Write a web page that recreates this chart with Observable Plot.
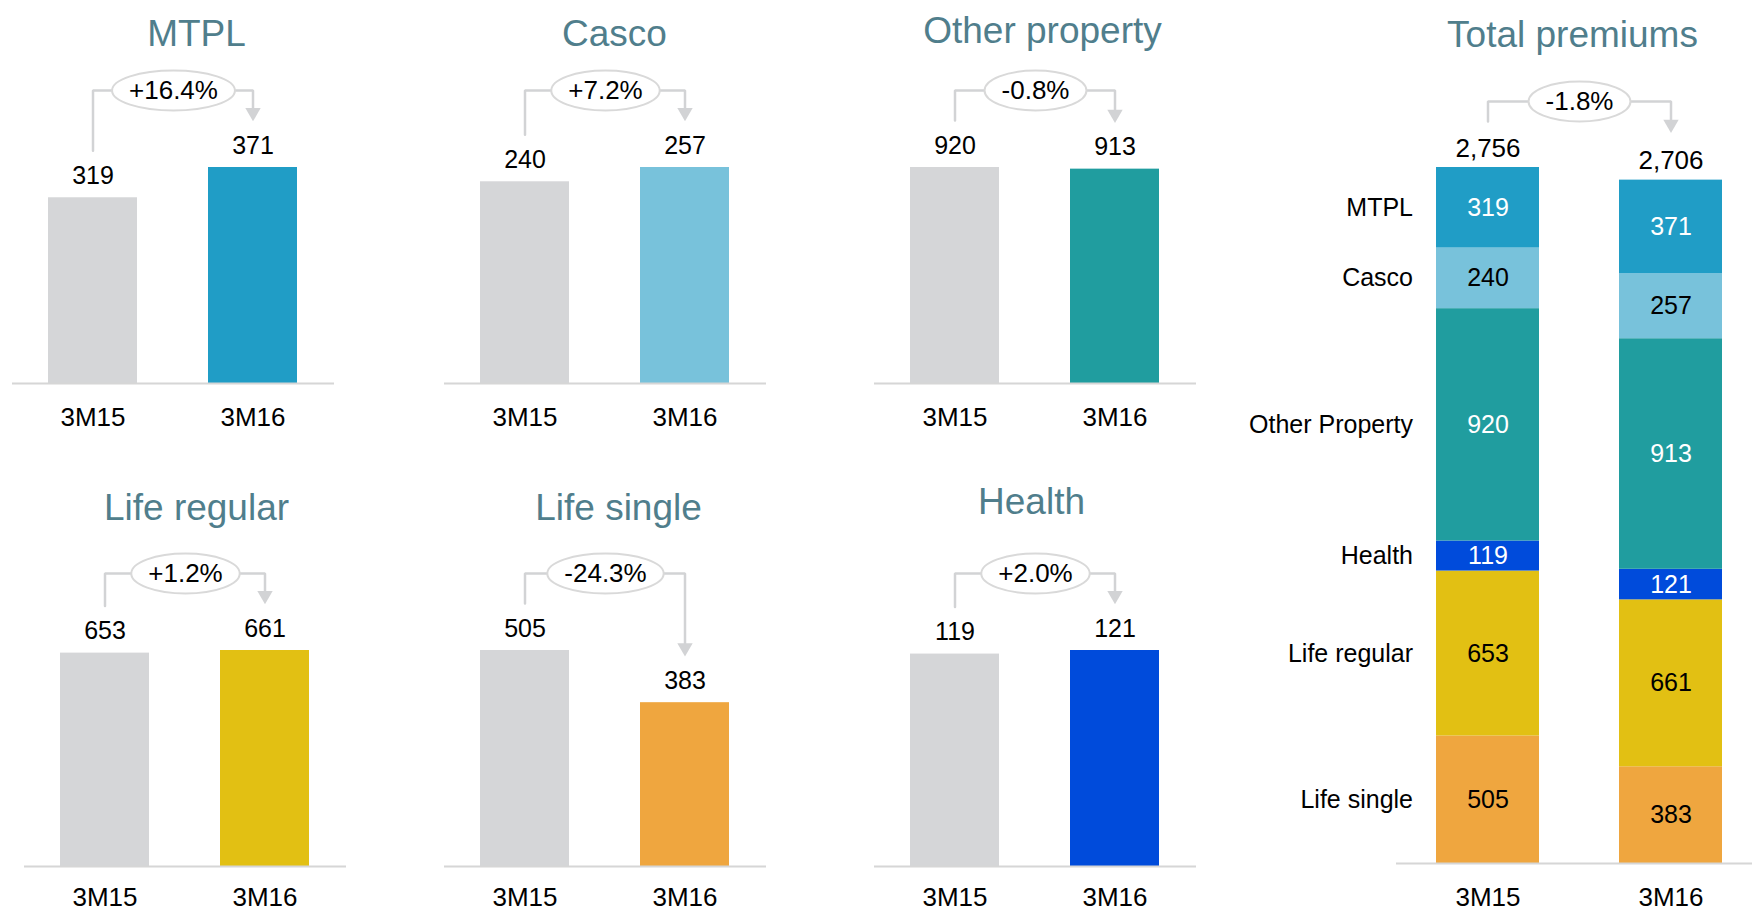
<!DOCTYPE html>
<html><head><meta charset="utf-8">
<script src="https://cdn.jsdelivr.net/npm/d3@7"></script>
<script src="https://cdn.jsdelivr.net/npm/@observablehq/plot@0.6"></script>
<style>
html,body{margin:0;padding:0;background:#fff;}
#root{position:relative;width:1752px;height:910px;overflow:hidden;font-family:"Liberation Sans",Arial,sans-serif;}
#root svg{position:absolute;overflow:visible;}
</style></head><body><div id="root"></div>
<script>
// ---------- DATA ----------
const periods = ["3M15", "3M16"];
const segments = ["MTPL", "Casco", "Other property", "Life regular", "Life single", "Health"];
const values3M15 = [319, 240, 920, 653, 505, 119];
const values3M16 = [371, 257, 913, 661, 383, 121];
const changes = ["+16.4%", "+7.2%", "-0.8%", "+1.2%", "-24.3%", "+2.0%"];

const totalTitle = "Total premiums";
const stackCategories = ["MTPL", "Casco", "Other Property", "Health", "Life regular", "Life single"]; // top -> bottom
const stack3M15 = [319, 240, 920, 119, 653, 505];
const stack3M16 = [371, 257, 913, 121, 661, 383];
const totals = [2756, 2706];
const totalChange = "-1.8%";

// ---------- STYLE ----------
const FONT = "Liberation Sans, Arial, sans-serif";
const GRAY_BAR = "#d5d6d8";
const TITLE_COLOR = "#507e8c";
const LINE_GRAY = "#d2d3d5";
const AXIS_GRAY = "#d6d6d6";
const segColor = {
  "MTPL": "#209dc6", "Casco": "#78c2db", "Other property": "#209d9f", "Other Property": "#209d9f",
  "Health": "#004bdb", "Life regular": "#e2c013", "Life single": "#efa63f"
};
const segLabelColor = {
  "MTPL": "white", "Casco": "black", "Other Property": "white",
  "Health": "white", "Life regular": "black", "Life single": "black"
};

// ---------- LAYOUT ----------
const rowsLayout = [
  {top: 0, height: 450, mt: 167, mb: 67, labelDy: 42},
  {top: 450, height: 460, mt: 200, mb: 44, labelDy: 39}
];
const panelLayout = [
  {row: 0, left: 0,   titleDx: 23, titleBase: 45},
  {row: 0, left: 432, titleDx: 9,  titleBase: 45},
  {row: 0, left: 862, titleDx: 7,  titleBase: 42},
  {row: 1, left: 12,  titleDx: 11, titleBase: 519},
  {row: 1, left: 432, titleDx: 13, titleBase: 519},
  {row: 1, left: 862, titleDx: -4, titleBase: 513}
];
const SMALL_W = 346, SMALL_M = 12;
const GAP = {leg: 47, arrow: 55, horiz: 77};

const root = document.getElementById("root");
const mctx = document.createElement("canvas").getContext("2d");
function textWidth(s, size) { mctx.font = `${size}px "Liberation Sans"`; return mctx.measureText(s).width; }
function ellipseSymbol(rx, ry) {
  const K = 0.5522847498;
  return {draw(c) {
    c.moveTo(rx, 0);
    c.bezierCurveTo(rx, ry * K, rx * K, ry, 0, ry);
    c.bezierCurveTo(-rx * K, ry, -rx, ry * K, -rx, 0);
    c.bezierCurveTo(-rx, -ry * K, -rx * K, -ry, 0, -ry);
    c.bezierCurveTo(rx * K, -ry, rx, -ry * K, rx, 0);
    c.closePath();
  }};
}
function place(svg, left, top) {
  svg.style.position = "absolute";
  svg.style.left = left + "px";
  svg.style.top = top + "px";
  root.appendChild(svg);
}

function bracketMarks(v, max, k, gaps) {
  const yH = max + gaps.horiz * k;
  const pts = [
    {period: periods[0], y: v[0] + gaps.leg * k},
    {period: periods[0], y: yH},
    {period: periods[1], y: yH},
    {period: periods[1], y: v[1] + gaps.arrow * k}
  ];
  return {yH, marks: [
    Plot.line(pts, {x: "period", y: "y", stroke: LINE_GRAY, strokeWidth: 2.5, strokeLinejoin: "miter"}),
    Plot.dot([pts[3]], {x: "period", y: "y", symbol: "triangle", rotate: 180, r: 5.7, fill: LINE_GRAY, stroke: "none"})
  ]};
}
function pctMarks(text, yH, dx) {
  const rx = textWidth(text, 26) / 2 + 17;
  return [
    Plot.dot([yH], {y: d => d, frameAnchor: "middle", dx, symbol: ellipseSymbol(rx, 20), fill: "white", stroke: "#d9d9d9", strokeWidth: 2}),
    Plot.text([text], {y: () => yH, frameAnchor: "middle", dx, text: d => d, fontSize: 26, fill: "black"})
  ];
}

// ---------- SMALL PANELS ----------
segments.forEach((name, i) => {
  const L = panelLayout[i];
  const R = rowsLayout[L.row];
  const v = [values3M15[i], values3M16[i]];
  const data = periods.map((period, j) => ({period, value: v[j]}));
  const max = d3.max(v);
  const frameH = R.height - R.mt - R.mb;
  const k = max / frameH;
  const br = bracketMarks(v, max, k, GAP);
  const svg = Plot.plot({
    width: SMALL_W, height: R.height,
    marginLeft: SMALL_M, marginRight: SMALL_M, marginTop: R.mt, marginBottom: R.mb,
    style: {fontFamily: FONT, background: "transparent", overflow: "visible"},
    x: {domain: periods, axis: null, paddingInner: 71 / 161, paddingOuter: 0.2205},
    y: {domain: [0, max], axis: null},
    color: {type: "identity"},
    marks: [
      Plot.barY(data, {x: "period", y: "value", fill: d => d.period === periods[0] ? GRAY_BAR : segColor[name]}),
      Plot.ruleY([0], {stroke: AXIS_GRAY, strokeWidth: 2}),
      ...br.marks,
      ...pctMarks(changes[i], br.yH, 0),
      Plot.text(data, {x: "period", y: "value", text: d => d3.format(",")(d.value), dy: -14, lineAnchor: "bottom", fontSize: 25, fill: "black"}),
      Plot.text(periods, {x: d => d, frameAnchor: "bottom", text: d => d, dy: R.labelDy, lineAnchor: "bottom", fontSize: 26, fill: "black"}),
      Plot.text([name], {frameAnchor: "top", text: d => d, dx: L.titleDx, dy: L.titleBase - R.top - R.mt, lineAnchor: "bottom", fontSize: 37, fill: TITLE_COLOR})
    ]
  });
  place(svg, L.left, R.top);
});

// ---------- TOTAL PANEL ----------
(function() {
  const W = 552, left = 1200, H = 910, mt = 167, mb = 47, ml = 196;
  const xRange = [236, 522];
  const rows = [];
  const bottomUp = stackCategories.slice().reverse();
  periods.forEach((period, j) => {
    const vals = j === 0 ? stack3M15 : stack3M16;
    bottomUp.forEach(c => rows.push({period, category: c, value: vals[stackCategories.indexOf(c)]}));
  });
  const max = d3.max(totals);
  const k = max / (H - mt - mb);
  const frameCenter = ml + (W - ml) / 2;
  const dx = (xRange[0] + xRange[1]) / 2 - frameCenter;
  const br = bracketMarks(totals, max, k, {leg: 46, arrow: 56, horiz: 66});
  const stackOpts = {x: "period", y: "value", z: "category", order: bottomUp};
  const svg = Plot.plot({
    width: W, height: H,
    marginLeft: ml, marginRight: 0, marginTop: mt, marginBottom: mb,
    style: {fontFamily: FONT, background: "transparent", overflow: "visible"},
    x: {domain: periods, axis: null, range: xRange, paddingInner: 80 / 183, paddingOuter: 0},
    y: {domain: [0, max], axis: null},
    color: {type: "identity"},
    marks: [
      Plot.barY(rows, Plot.stackY({...stackOpts, fill: d => segColor[d.category]})),
      Plot.ruleY([0], {stroke: AXIS_GRAY, strokeWidth: 2}),
      ...br.marks,
      ...pctMarks(totalChange, br.yH, dx),
      Plot.text(rows, Plot.stackY({...stackOpts, text: d => d3.format(",")(d.value), fill: d => segLabelColor[d.category], fontSize: 25})),
      Plot.text(rows.filter(d => d.period === periods[0]), Plot.stackY({...stackOpts, text: "category", dx: -75, textAnchor: "end", fontSize: 25, fill: "black"})),
      Plot.text(periods, {x: d => d, y: (d, j) => totals[j], text: (d, j) => d3.format(",")(totals[j]), dy: -11, lineAnchor: "bottom", fontSize: 26, fill: "black"}),
      Plot.text(periods, {x: d => d, frameAnchor: "bottom", text: d => d, dy: 42, lineAnchor: "bottom", fontSize: 26, fill: "black"}),
      Plot.text([totalTitle], {frameAnchor: "top", text: d => d, dx: 1572 - left - frameCenter, dy: 46 - mt, lineAnchor: "bottom", fontSize: 37, fill: TITLE_COLOR})
    ]
  });
  place(svg, left, 0);
})();
</script></body></html>
